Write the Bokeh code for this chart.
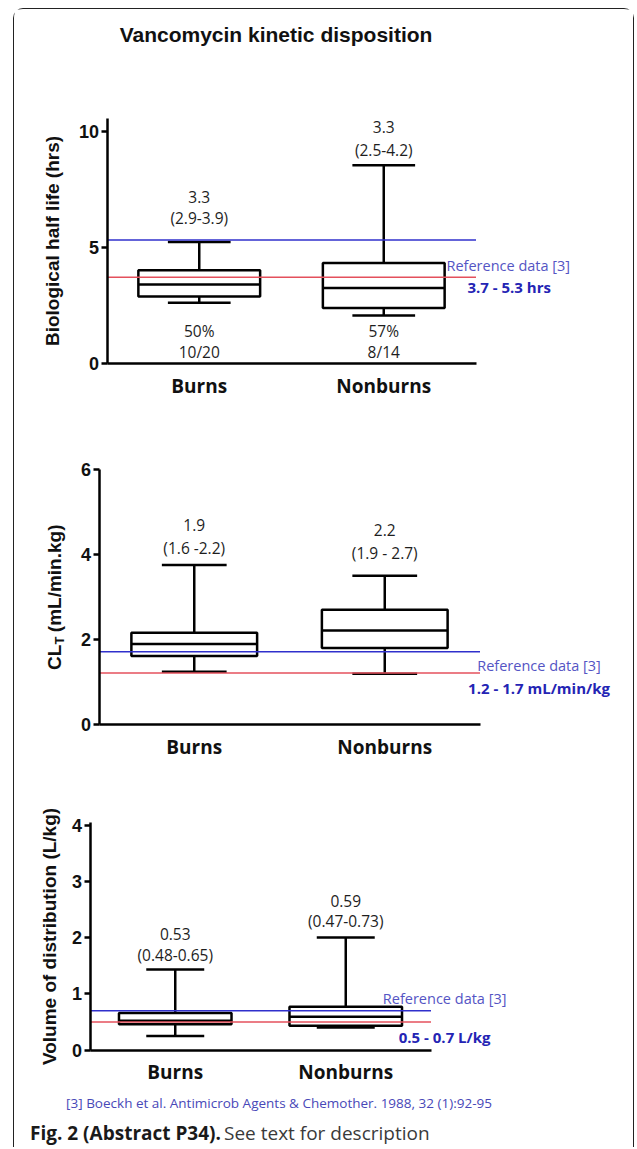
import math
from bokeh.plotting import figure
from bokeh.models import Range1d, FixedTicker, ColumnDataSource
from bokeh.layouts import column
from bokeh.core.properties import value
from bokeh.embed import file_html
from bokeh.resources import INLINE

# ---------------- data ----------------
groups = ["Burns", "Nonburns"]

title_text = "Vancomycin kinetic disposition"

# Panel 1: biological half life (hrs)
hl_low = [2.60, 2.05]
hl_q1 = [2.87, 2.37]
hl_med = [3.38, 3.23]
hl_q3 = [4.00, 4.31]
hl_high = [5.22, 8.52]
hl_median_txt = ["3.3", "3.3"]
hl_iqr_txt = ["(2.9-3.9)", "(2.5-4.2)"]
hl_pct_txt = ["50%", "57%"]
hl_frac_txt = ["10/20", "8/14"]
hl_ref = [3.7, 5.3]
hl_ref_txt = "3.7 - 5.3 hrs"
hl_ticks = [0, 5, 10]

# Panel 2: total clearance (mL/min.kg)
cl_low = [1.23, 1.18]
cl_q1 = [1.60, 1.79]
cl_med = [1.88, 2.20]
cl_q3 = [2.15, 2.69]
cl_high = [3.74, 3.49]
cl_median_txt = ["1.9", "2.2"]
cl_iqr_txt = ["(1.6 -2.2)", "(1.9 - 2.7)"]
cl_ref = [1.2, 1.7]
cl_ref_txt = "1.2 - 1.7 mL/min/kg"
cl_ticks = [0, 2, 4, 6]

# Panel 3: volume of distribution (L/kg)
vd_low = [0.25, 0.40]
vd_q1 = [0.46, 0.43]
vd_med = [0.52, 0.59]
vd_q3 = [0.66, 0.77]
vd_high = [1.43, 2.00]
vd_median_txt = ["0.53", "0.59"]
vd_iqr_txt = ["(0.48-0.65)", "(0.47-0.73)"]
vd_ref = [0.5, 0.7]
vd_ref_txt = "0.5 - 0.7 L/kg"
vd_ticks = [0, 1, 2, 3, 4]

ref_label = "Reference data [3]"
footnote = "[3] Boeckh et al. Antimicrob Agents & Chemother. 1988, 32 (1):92-95"
caption_bold = "Fig. 2 (Abstract P34)."
caption_rest = "See text for description"

# ---------------- styling / layout ----------------
L0 = 14.5          # page x of content's left edge
T0 = 9.5           # page y of content's top edge
WF = 619           # figure width
BOX_W = 0.33
CAP_W = 0.17
AX_END = 1.0
LW = 2.5
RED = "#e4505c"
BLUE = "#3030cc"
REF_TXT = "#5454c4"
REF_BOLD = "#2424b4"
ANN = "#1e1e1e"
SANS = "Liberation Sans"
OPEN = "Open Sans"


def page_fig(top, h):
    """figure whose data coordinates are page pixels (for free texts)"""
    p = figure(width=WF, height=h, x_range=Range1d(L0, L0 + WF), y_range=Range1d(top + h, top),
               x_axis_type=None, y_axis_type=None, output_backend="svg",
               toolbar_location=None, min_border=0)
    p.outline_line_color = None
    p.grid.visible = False
    return p


def panel_fig(top, h, ax0, ax1, y0, k):
    """figure with frame = whole canvas; x: 0..1 maps to page ax0..ax1, y: 0 at page y0, k px/unit"""
    xs = (L0 - ax0) / (ax1 - ax0)
    xe = (L0 + WF - ax0) / (ax1 - ax0)
    ys = -(top + h - y0) / k
    ye = (y0 - top) / k
    p = figure(width=WF, height=h, x_range=Range1d(xs, xe), y_range=Range1d(ys, ye),
               output_backend="svg", toolbar_location=None, min_border=0)
    p.outline_line_color = None
    p.grid.visible = False
    p.background_fill_color = "white"
    p.border_fill_color = "white"
    return p


def style_axes(p, ticks, y_top, ylabel, y_label_standoff, x_standoff):
    n = len(groups)
    pos = [(i + 0.5) / n for i in range(n)]
    xa = p.xaxis[0]
    xa.fixed_location = 0
    xa.ticker = FixedTicker(ticks=pos)
    xa.major_label_overrides = {pos[i]: groups[i] for i in range(n)}
    xa.bounds = (0, AX_END)
    xa.axis_line_width = LW
    xa.axis_line_color = "black"
    xa.major_tick_in = 0
    xa.major_tick_out = 0
    xa.minor_tick_in = 0
    xa.minor_tick_out = 0
    xa.major_label_standoff = x_standoff
    xa.major_label_text_font = OPEN
    xa.major_label_text_font_style = "bold"
    xa.major_label_text_font_size = "19px"
    xa.major_label_text_color = "#111111"

    ya = p.yaxis[0]
    ya.fixed_location = 0
    ya.ticker = FixedTicker(ticks=ticks)
    ya.bounds = (0, y_top)
    ya.axis_line_width = LW
    ya.axis_line_color = "black"
    ya.major_tick_line_width = LW
    ya.major_tick_out = 6
    ya.major_tick_in = 0
    ya.minor_tick_in = 0
    ya.minor_tick_out = 0
    ya.major_label_standoff = 2
    ya.major_label_text_font = SANS
    ya.major_label_text_font_style = "bold"
    ya.major_label_text_font_size = "18px"
    ya.major_label_text_color = "#111111"
    ya.axis_label = ylabel
    ya.axis_label_standoff = y_label_standoff
    ya.axis_label_text_font = SANS
    ya.axis_label_text_font_style = "bold"
    ya.axis_label_text_font_size = "19px"
    ya.axis_label_text_color = "#111111"
    return pos


def draw_boxes(p, pos, low, q1, med, q3, high, refs):
    src = ColumnDataSource(dict(
        x=pos,
        left=[x - BOX_W / 2 for x in pos], right=[x + BOX_W / 2 for x in pos],
        cl=[x - CAP_W / 2 for x in pos], cr=[x + CAP_W / 2 for x in pos],
        low=low, q1=q1, med=med, q3=q3, high=high))
    p.segment(x0="x", x1="x", y0="q3", y1="high", source=src, line_color="black", line_width=LW)
    p.segment(x0="x", x1="x", y0="q1", y1="low", source=src, line_color="black", line_width=LW)
    p.segment(x0="cl", x1="cr", y0="high", y1="high", source=src, line_color="black", line_width=LW)
    p.segment(x0="cl", x1="cr", y0="low", y1="low", source=src, line_color="black", line_width=LW)
    p.quad(left="left", right="right", bottom="q1", top="q3", source=src,
           fill_color=None, line_color="black", line_width=LW)
    p.segment(x0="left", x1="right", y0="med", y1="med", source=src, line_color="black", line_width=LW)
    # reference range lines (low = red, high = blue)
    p.segment(x0=[0, 0], x1=[AX_END, AX_END], y0=refs, y1=refs,
              line_color=[RED, BLUE], line_width=1.5)


def ann(p, xs, ys, texts, size="15.5px", color=ANN, style="normal", align="center",
        font=OPEN, angle=0.0):
    p.text(x=xs, y=ys, text=texts, text_font=value(font), text_font_size=size,
           text_font_style=style, text_color=color, text_align=align, text_baseline="middle",
           angle=angle)


H_HEAD, H1, H2, H3, H_FOOT = 61, 337, 358, 320, 62
top1 = T0 + H_HEAD
top2 = top1 + H1
top3 = top2 + H2
top_f = top3 + H3

# ---------------- header ----------------
head = page_fig(T0, H_HEAD)
ann(head, [276], [34], [title_text], size="21px", color="#111111", style="bold", font=SANS)

# ---------------- panel 1 ----------------
p1 = panel_fig(top1, H1, 107, 476, 363, 23.2)
pos1 = style_axes(p1, hl_ticks, 10.56, "Biological half life (hrs)", 13, 10)
draw_boxes(p1, pos1, hl_low, hl_q1, hl_med, hl_q3, hl_high, hl_ref)
ann(p1, pos1, [7.17, 10.16], hl_median_txt)
ann(p1, pos1, [6.25, 9.20], hl_iqr_txt)
ann(p1, pos1, [1.36, 1.36], hl_pct_txt)
ann(p1, pos1, [0.46, 0.46], hl_frac_txt)
ann(p1, [0.92], [4.22], [ref_label], size="14.5px", color=REF_TXT, align="left")
ann(p1, [1.09], [3.28], [hl_ref_txt], size="15px", color=REF_BOLD, style="bold")

# ---------------- panel 2 ----------------
p2 = panel_fig(top2, H2, 99, 480, 724, 42.5)
pos2 = style_axes(p2, cl_ticks, 6.0, "", 13, 10)
draw_boxes(p2, pos2, cl_low, cl_q1, cl_med, cl_q3, cl_high, cl_ref)
ann(p2, pos2, [4.68, 4.57], cl_median_txt)
ann(p2, pos2, [4.13, 4.02], cl_iqr_txt)
ann(p2, [1.155], [1.37], [ref_label], size="14.5px", color=REF_TXT)
ann(p2, [1.155], [0.85], [cl_ref_txt], size="15px", color=REF_BOLD, style="bold")
# y label with subscript: CL_T (mL/min.kg)
ann(p2, [-0.1155], [1.27], ["CL"], size="19px", color="#111111", style="bold",
    align="left", font=SANS, angle=math.pi / 2)
ann(p2, [-0.1025], [1.87], ["T"], size="13px", color="#111111", style="bold",
    align="left", font=SANS, angle=math.pi / 2)
ann(p2, [-0.1155], [2.16], ["(mL/min.kg)"], size="19px", color="#111111", style="bold",
    align="left", font=SANS, angle=math.pi / 2)

# ---------------- panel 3 ----------------
p3 = panel_fig(top3, H3, 90, 431, 1050, 56.25)
pos3 = style_axes(p3, vd_ticks, 4.036, "Volume of distribution (L/kg)", 9, 9)
draw_boxes(p3, pos3, vd_low, vd_q1, vd_med, vd_q3, vd_high, vd_ref)
ann(p3, pos3, [2.06, 2.65], vd_median_txt)
ann(p3, pos3, [1.69, 2.29], vd_iqr_txt)
ann(p3, [1.04], [0.92], [ref_label], size="14.5px", color=REF_TXT)
ann(p3, [1.04], [0.24], [vd_ref_txt], size="15px", color=REF_BOLD, style="bold")

# ---------------- footer ----------------
foot = page_fig(top_f, H_FOOT)
ann(foot, [279], [1103], [footnote], size="13.5px", color="#4848b8")
ann(foot, [30], [1133], [caption_bold], size="19px", color="#1a1a1a", style="bold", align="left")
ann(foot, [224], [1133], [caption_rest], size="19px", color="#3a3a3a", align="left")

layout = column(head, p1, p2, p3, foot, margin=(8, 0, 0, 13),
                styles={"border": "1.5px solid #222", "border-bottom": "none",
                        "border-radius": "10px 10px 0 0"})

open("out.html", "w").write(file_html(layout, INLINE))
